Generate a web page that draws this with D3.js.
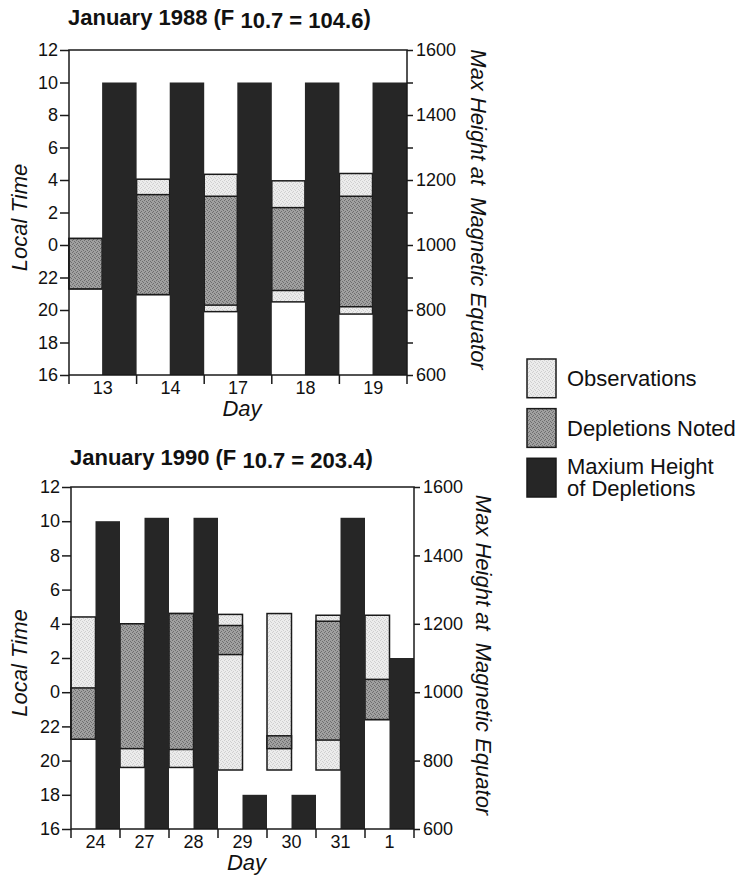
<!DOCTYPE html>
<html><head><meta charset="utf-8">
<script src="https://cdn.jsdelivr.net/npm/d3@7"></script>
<style>
body{margin:0;background:#fff}
svg{display:block;font-family:"Liberation Sans",Arial,Helvetica,sans-serif}
</style>
</head><body><svg id="c" width="738" height="890"></svg>
<script>
// ---- Data (local time in hours; heights in km) ----
const days1988 = ["13","14","17","18","19"];
const obsStart1988  = [21.3, 20.95, 19.9, 20.5, 19.75];
const obsEnd1988    = [0.4, 4.05, 4.35, 3.95, 4.4];
const deplStart1988 = [21.3, 20.95, 20.3, 21.2, 20.2];
const deplEnd1988   = [0.4, 3.1, 3.0, 2.3, 3.0];
const maxHeight1988 = [1500, 1500, 1500, 1500, 1500];

const days1990 = ["24","27","28","29","30","31","1"];
const obsStart1990  = [21.25, 19.6, 19.6, 19.45, 19.45, 19.45, 22.4];
const obsEnd1990    = [4.4, 4.0, 4.6, 4.55, 4.6, 4.5, 4.5];
const deplStart1990 = [21.25, 20.7, 20.65, 2.2, 20.7, 21.2, 22.4];
const deplEnd1990   = [0.25, 4.0, 4.6, 3.9, 21.45, 4.15, 0.75];
const maxHeight1990 = [1500, 1510, 1510, 700, 700, 1510, 1100];

const timeTickLabels = [16, 18, 20, 22, 0, 2, 4, 6, 8, 10, 12];
const heightTicks = [600, 800, 1000, 1200, 1400, 1600];
const heightMinorTicks = [700, 900, 1100, 1300, 1500];

const legendLabels = [["Observations"], ["Depletions Noted"], ["Maxium Height", "of Depletions"]];

// ---- Styles ----
const C_MAX = "#262626", C_LINE = "#1a1a1a";

const svg = d3.select("#c");
const defs = svg.append("defs");
// halftone-like stipple texture
const stippleDots = [[0,0],[2,1],[1,3],[3,2]];
function stipple(id, base, dot) {
  const p = defs.append("pattern").attr("id", id).attr("patternUnits", "userSpaceOnUse")
    .attr("width", 4).attr("height", 4);
  p.append("rect").attr("width", 4).attr("height", 4).attr("fill", base);
  stippleDots.forEach(([a, b]) => p.append("rect").attr("x", a).attr("y", b)
    .attr("width", 1).attr("height", 1).attr("fill", dot));
}
stipple("pObs", "#ececec", "#cfcfcf");
stipple("pDepl", "#a0a0a0", "#6e6e6e");
const C_OBS = "url(#pObs)", C_DEPL = "url(#pDepl)";

const toT = h => (((h - 16) % 24) + 24) % 24;   // hours since 16:00
const FONT = "Liberation Sans, Arial, sans-serif";

function panel(o) {
  const g = svg.append("g");
  const rows = o.days.map((d, i) => ({
    day: d, os: o.obsStart[i], oe: o.obsEnd[i], ds: o.deplStart[i], de: o.deplEnd[i], mh: o.maxH[i]
  }));
  const x = d3.scaleBand().domain(o.days).range([o.left, o.right]).padding(0);
  const bw = x.bandwidth();
  const split = o.split;
  const y = d3.scaleLinear().domain([0, 20]).range([o.bottom, o.top]);
  const yh = d3.scaleLinear().domain([600, 1600]).range([o.bottom, o.top]);

  g.selectAll("rect.obs").data(rows).join("rect").attr("class", "obs")
    .attr("x", d => x(d.day)).attr("width", bw * split)
    .attr("y", d => y(toT(d.oe))).attr("height", d => y(toT(d.os)) - y(toT(d.oe)))
    .attr("fill", C_OBS).attr("stroke", C_LINE).attr("stroke-width", 1.5);
  g.selectAll("rect.depl").data(rows).join("rect").attr("class", "depl")
    .attr("x", d => x(d.day)).attr("width", bw * split)
    .attr("y", d => y(toT(d.de))).attr("height", d => y(toT(d.ds)) - y(toT(d.de)))
    .attr("fill", C_DEPL).attr("stroke", C_LINE).attr("stroke-width", 1.5);
  g.selectAll("rect.mx").data(rows).join("rect").attr("class", "mx")
    .attr("x", d => x(d.day) + bw * split).attr("width", bw * (1 - split))
    .attr("y", d => yh(d.mh)).attr("height", d => yh(600) - yh(d.mh))
    .attr("fill", C_MAX);

  g.append("rect").attr("x", o.left).attr("y", o.top)
    .attr("width", o.right - o.left).attr("height", o.bottom - o.top)
    .attr("fill", "none").attr("stroke", C_LINE).attr("stroke-width", 1.5);

  const la = g.append("g").attr("transform", `translate(${o.left},0)`)
    .call(d3.axisLeft(y).tickValues(d3.range(0, 21, 2))
      .tickFormat((t, i) => timeTickLabels[i]).tickSize(9).tickSizeOuter(0).tickPadding(2));
  la.select(".domain").remove();
  la.selectAll("line").attr("stroke", C_LINE).attr("stroke-width", 1.5);
  la.selectAll("text").attr("font-size", 18).attr("fill", "#111").attr("font-family", FONT);

  const ra = g.append("g").attr("transform", `translate(${o.right},0)`)
    .call(d3.axisRight(yh).tickValues(heightTicks).tickFormat(d3.format("d"))
      .tickSize(6).tickSizeOuter(0).tickPadding(3));
  ra.select(".domain").remove();
  ra.selectAll("line").attr("stroke", C_LINE).attr("stroke-width", 1.5);
  ra.selectAll("text").attr("font-size", 18).attr("fill", "#111").attr("font-family", FONT);
  if (o.minor) {
    const rm = g.append("g").attr("transform", `translate(${o.right},0)`)
      .call(d3.axisRight(yh).tickValues(heightMinorTicks).tickSize(6).tickSizeOuter(0).tickFormat(""));
    rm.select(".domain").remove();
    rm.selectAll("line").attr("stroke", C_LINE).attr("stroke-width", 1.5);
  }

  const ba = g.append("g").attr("transform", `translate(0,${o.bottom})`)
    .call(d3.axisBottom(x).tickSize(0).tickPadding(6).tickSizeOuter(0));
  ba.select(".domain").remove();
  ba.selectAll("text").attr("font-size", 18).attr("fill", "#111").attr("font-family", FONT);
  const bounds = o.days.map(d => x(d)).concat([x(o.days[o.days.length - 1]) + bw]);
  g.selectAll("line.bt").data(bounds).join("line").attr("class", "bt")
    .attr("x1", d => d).attr("x2", d => d).attr("y1", o.bottom).attr("y2", o.bottom + 9)
    .attr("stroke", C_LINE).attr("stroke-width", 1.5);

  const t = g.append("text").attr("x", o.left - 1).attr("y", o.titleY)
    .attr("font-size", 22).attr("font-weight", "bold").attr("fill", "#111");
  t.append("tspan").text(o.title[0]);
  t.append("tspan").attr("dy", 2.5).text(o.title[1]);
  t.append("tspan").attr("dy", -2.5).text(o.title[2]);

  g.append("text").attr("transform", `translate(27,${(o.top + o.bottom) / 2 + 5}) rotate(-90)`)
    .attr("text-anchor", "middle").attr("font-size", 22).attr("font-style", "italic").attr("fill", "#111")
    .text("Local Time");
  g.append("text").attr("x", (o.left + o.right) / 2 + 4).attr("y", o.bottom + 41)
    .attr("text-anchor", "middle").attr("font-size", 22).attr("font-style", "italic").attr("fill", "#111")
    .text("Day");
  g.append("text").attr("transform", `translate(${o.rightLabelX},${(o.top + o.bottom) / 2 - 3}) rotate(90)`)
    .attr("text-anchor", "middle").attr("font-size", 22).attr("font-style", "italic").attr("fill", "#111")
    .attr("xml:space", "preserve")
    .text("Max Height at  Magnetic Equator");
}

panel({
  days: days1988, obsStart: obsStart1988, obsEnd: obsEnd1988, deplStart: deplStart1988,
  deplEnd: deplEnd1988, maxH: maxHeight1988,
  left: 69, right: 407, top: 50, bottom: 375, split: 0.49, minor: true,
  title: ["January 1988 (F ", "10.7 = 104.6", ")"], titleY: 25, rightLabelX: 471
});
panel({
  days: days1990, obsStart: obsStart1990, obsEnd: obsEnd1990, deplStart: deplStart1990,
  deplEnd: deplEnd1990, maxH: maxHeight1990,
  left: 71, right: 414, top: 487, bottom: 829, split: 0.5, minor: false,
  title: ["January 1990 (F ", "10.7 = 203.4", ")"], titleY: 465, rightLabelX: 476
});

const lg = svg.append("g");
const fills = [C_OBS, C_DEPL, C_MAX];
const ly = d3.scaleBand().domain(d3.range(3)).range([359, 497]).paddingInner(0.22);
lg.selectAll("rect").data(fills).join("rect")
  .attr("x", 527).attr("y", (d, i) => ly(i)).attr("width", 29).attr("height", ly.bandwidth())
  .attr("fill", d => d).attr("stroke", C_LINE).attr("stroke-width", 1.5);
legendLabels.forEach((lines, i) => {
  const tx = lg.append("text").attr("x", 567).attr("font-size", 22).attr("fill", "#111");
  const base = lines.length === 1 ? ly(i) + ly.bandwidth() / 2 + 8 : ly(i) + 16;
  lines.forEach((s, j) => tx.append("tspan").attr("x", 567).attr("y", base + j * 21.5).text(s));
});
</script>
</body></html>
